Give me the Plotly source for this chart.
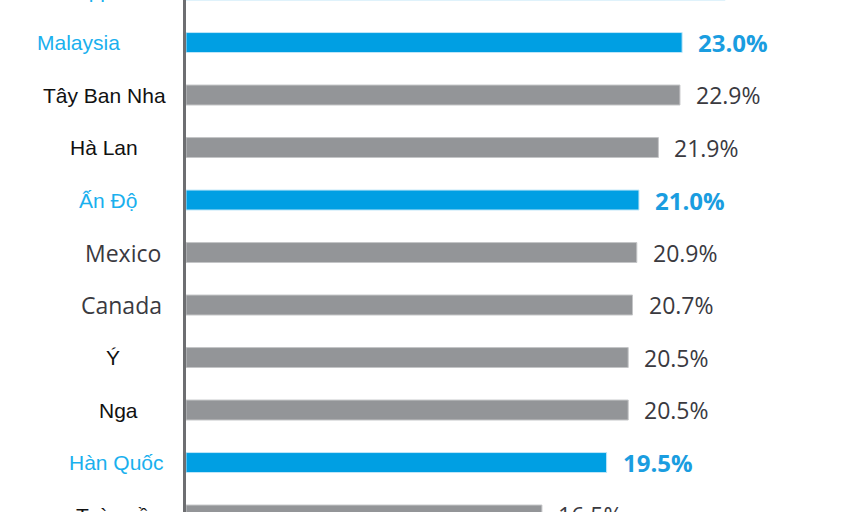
import plotly.graph_objects as go

# data (top row is cut off in the reference)
countries = ["Philippines", "Malaysia", "Tây Ban Nha", "Hà Lan", "Ấn Độ", "Mexico",
             "Canada", "Ý", "Nga", "Hàn Quốc", "Toàn cầu"]
shares = [25.0, 23.0, 22.9, 21.9, 21.0, 20.9, 20.7, 20.5, 20.5, 19.5, 16.5]
highlight = ["Philippines", "Malaysia", "Ấn Độ", "Hàn Quốc"]

# styling
BLUE_BAR = "#009fe3"
BLUE_TXT = "#1ab0ee"
GRAY_BAR = "#939598"
LEFT = 186
WIDTH = 850 - LEFT
PITCH = 52.5      # px per row
OVER = 30         # figure runs this far past the window top and bottom
label_center = {"Philippines": 100, "Malaysia": 78, "Tây Ban Nha": 104, "Hà Lan": 104,
                "Ấn Độ": 108, "Mexico": 123, "Canada": 121, "Ý": 113, "Nga": 118,
                "Hàn Quốc": 116, "Toàn cầu": 118}
open_sans_labels = ["Mexico", "Canada"]

colors = [BLUE_BAR if c in highlight else GRAY_BAR for c in countries]
edges = ["#bfe6f8" if c in highlight else "#c4c5c7" for c in countries]

fig = go.Figure(go.Bar(
    x=shares, y=countries, orientation="h", width=0.38,
    marker=dict(color=colors, line=dict(color=edges, width=1)),
    hoverinfo="skip",
))

annotations = []
for c, v in zip(countries, shares):
    hl = c in highlight
    annotations.append(dict(
        x=v, y=c, xref="x", yref="y", xanchor="left", yanchor="middle",
        xshift=14, showarrow=False, text=f"<b>{v:.1f}%</b>" if hl else f"{v:.1f}%",
        font=dict(family="Open Sans", size=24 if hl else 23,
                  color="#1a9de0" if hl else "#3a3a3f"),
    ))
    if c in open_sans_labels:
        lf = dict(family="Open Sans", size=23, color="#3a3a3f")
    else:
        lf = dict(family="Liberation Sans, Arial", size=21, color=BLUE_TXT if hl else "#111111")
    annotations.append(dict(
        x=(label_center[c] - LEFT) / WIDTH, y=c, xref="paper", yref="y",
        xanchor="center", yanchor="middle", showarrow=False, text=c, font=lf,
    ))

y_top = 0.19 - OVER / PITCH
y_bot = 0.19 + (512 + OVER) / PITCH

fig.update_layout(
    width=850, height=512 + 2 * OVER,
    margin=dict(l=LEFT, r=0, t=0, b=0),
    plot_bgcolor="white", paper_bgcolor="white",
    showlegend=False,
    annotations=annotations,
    xaxis=dict(range=[0, WIDTH / 21.57], visible=False, fixedrange=True),
    yaxis=dict(type="category", categoryorder="array", categoryarray=countries,
               range=[y_bot, y_top], showticklabels=False, showgrid=False,
               zeroline=False, ticks="", fixedrange=True,
               showline=True, linecolor="#6d6e71", linewidth=3),
)

# the reference is a crop: push the figure up so the first and last rows are cut
fig.write_html(
    "out.html",
    config={"displayModeBar": False, "staticPlot": True},
    post_script=f"document.body.style.margin='-{OVER}px 0 0 0';"
                "document.body.style.overflow='hidden';",
)
